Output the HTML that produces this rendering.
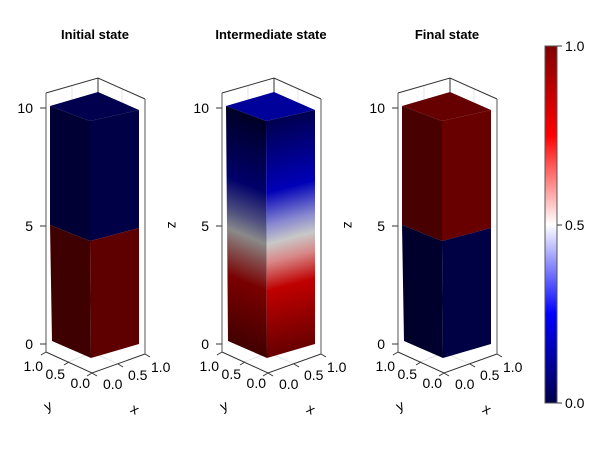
<!DOCTYPE html>
<html><head><meta charset="utf-8"><style>
html,body{margin:0;padding:0;background:#fff;}
svg{display:block;font-family:"Liberation Sans",sans-serif;}
</style></head><body>
<svg width="600" height="450" viewBox="0 0 600 450" xmlns="http://www.w3.org/2000/svg">
<defs>
<linearGradient id="gl" gradientUnits="userSpaceOnUse" x1="0" y1="106" x2="0" y2="341" gradientTransform="translate(227,0) skewY(21.8) translate(-227,0)">
<stop offset="0" stop-color="#000025"/><stop offset="0.3" stop-color="#00006a"/><stop offset="0.44" stop-color="#505080"/><stop offset="0.52" stop-color="#8a8a8a"/><stop offset="0.6" stop-color="#845050"/><stop offset="0.72" stop-color="#7a0000"/><stop offset="1" stop-color="#420000"/>
</linearGradient>
<linearGradient id="gr" gradientUnits="userSpaceOnUse" x1="0" y1="122" x2="0" y2="357" gradientTransform="translate(267,0) skewY(-14.9) translate(-267,0)">
<stop offset="0" stop-color="#000050"/><stop offset="0.3" stop-color="#0000b8"/><stop offset="0.44" stop-color="#8888d0"/><stop offset="0.52" stop-color="#c8c8c8"/><stop offset="0.6" stop-color="#d88888"/><stop offset="0.72" stop-color="#c00000"/><stop offset="1" stop-color="#680000"/>
</linearGradient>
<linearGradient id="cb" x1="0" y1="1" x2="0" y2="0">
<stop offset="0" stop-color="#00004c"/><stop offset="0.25" stop-color="#0000ff"/><stop offset="0.5" stop-color="#ffffff"/><stop offset="0.75" stop-color="#ff0000"/><stop offset="1" stop-color="#800000"/>
</linearGradient>
<g id="frame" fill="none" stroke-width="1">
<g stroke="#e4e4ea"><line x1="72" y1="86" x2="72" y2="345"/><line x1="122" y1="88" x2="122" y2="348"/><line x1="68" y1="362" x2="120" y2="342"/><line x1="118" y1="364" x2="72" y2="343"/></g>
<polyline points="46,93 98,78 145,99" stroke="#333"/>
<line x1="98" y1="78" x2="98" y2="94" stroke="#333"/>
<line x1="46" y1="93" x2="46" y2="352" stroke="#555"/>
<line x1="145" y1="99" x2="145" y2="354" stroke="#555"/>
<polyline points="46,352 92,373 145,354" stroke="#333"/>
<g stroke="#333"><line x1="40" y1="108" x2="46" y2="108"/><line x1="40" y1="226" x2="46" y2="226"/><line x1="40" y1="344" x2="46" y2="344"/>
<line x1="46" y1="352" x2="41" y2="355"/><line x1="69" y1="362" x2="64" y2="365"/><line x1="92" y1="373" x2="87" y2="376"/>
<line x1="92" y1="373" x2="97" y2="376"/><line x1="118" y1="364" x2="123" y2="367"/><line x1="145" y1="354" x2="150" y2="357"/></g>
<g font-size="14" fill="#000" stroke="none">
<text x="33" y="113" text-anchor="end">10</text><text x="33" y="231" text-anchor="end">5</text><text x="33" y="349" text-anchor="end">0</text>
<text x="43" y="371" text-anchor="end">1.0</text><text x="65" y="379" text-anchor="end">0.5</text><text x="90" y="388" text-anchor="end">0.0</text>
<text x="103" y="389">0.0</text><text x="128" y="380">0.5</text><text x="151" y="372">1.0</text>
<text x="45" y="412" transform="rotate(-25 45 408)">y</text><text x="131" y="414" transform="rotate(30 135 410)">x</text>
</g>
</g>
<text id="zl" x="168" y="225" font-size="14" transform="rotate(90 168 225)" text-anchor="middle">z</text>
</defs>
<g font-size="13" font-weight="bold" text-anchor="middle"><text x="95" y="39">Initial state</text><text x="271" y="39">Intermediate state</text><text x="447" y="39">Final state</text></g>

<!-- Panel 1 -->
<use href="#frame"/><use href="#zl"/>
<polygon points="50,106 98,92 139,110 90,121" fill="#00004e"/>
<polygon points="50,106 90,121 90,241 50,225" fill="#000034"/>
<polygon points="90,121 139,110 139,228 90,241" fill="#000046"/>
<polygon points="50,225 90,241 91,358 52,341" fill="#3e0000"/>
<polygon points="90,241 139,228 139,344 91,358" fill="#5e0000"/>

<!-- Panel 2 -->
<use href="#frame" x="176"/><use href="#zl" x="176"/>
<polygon points="226,106 274,92 315,110 266,121" fill="#00009a"/>
<polygon points="226,106 266,121 267,358 228,341" fill="url(#gl)"/>
<polygon points="266,121 315,110 315,344 267,358" fill="url(#gr)"/>

<!-- Panel 3 -->
<use href="#frame" x="352"/>
<polygon points="402,106 450,92 491,110 442,121" fill="#660000"/>
<polygon points="402,106 442,121 442,241 402,225" fill="#480000"/>
<polygon points="442,121 491,110 491,228 442,241" fill="#680000"/>
<polygon points="402,225 442,241 443,358 404,341" fill="#00002c"/>
<polygon points="442,241 491,228 491,344 443,358" fill="#000044"/>

<!-- Colorbar -->
<rect x="545" y="46" width="12" height="357" fill="url(#cb)" stroke="#555" stroke-width="1"/>
<g stroke="#333"><line x1="557" y1="46" x2="562" y2="46"/><line x1="557" y1="225" x2="562" y2="225"/><line x1="557" y1="403" x2="562" y2="403"/></g>
<g font-size="14"><text x="565" y="51">1.0</text><text x="565" y="230">0.5</text><text x="565" y="408">0.0</text></g>
</svg>
</body></html>
